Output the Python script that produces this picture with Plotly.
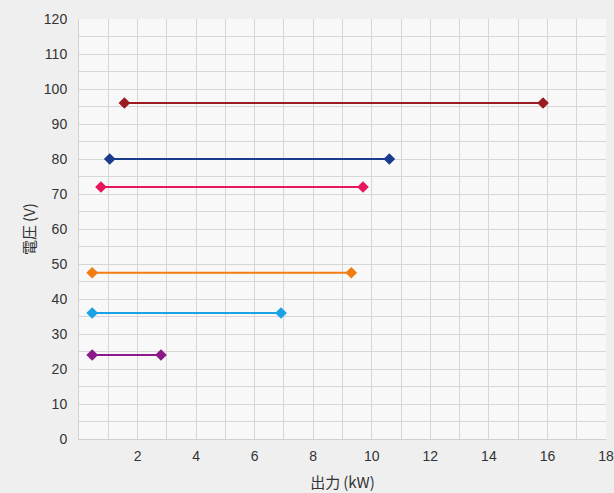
import plotly.graph_objects as go

series_y = [96, 80, 72, 47.5, 36, 24]
x_start = [1.55, 1.05, 0.75, 0.45, 0.45, 0.45]
x_end = [15.85, 10.6, 9.7, 9.3, 6.9, 2.8]
colors = ["#9b1c20", "#1b3c8c", "#e8175d", "#f07c12", "#1ba1e6", "#8a1a8a"]

x_ticks = [2, 4, 6, 8, 10, 12, 14, 16, 18]
y_ticks = list(range(0, 121, 10))

fig = go.Figure()
for y, xs, xe, c in zip(series_y, x_start, x_end, colors):
    fig.add_trace(go.Scatter(
        x=[xs, xe], y=[y, y], mode="lines+markers",
        line=dict(color=c, width=2),
        marker=dict(symbol="diamond", size=9, color=c),
        showlegend=False, hoverinfo="skip"))

tick_font = "Liberation Sans, Arial, sans-serif"
cjk_font = "Noto Sans CJK JP, sans-serif"
fig.update_layout(
    width=614, height=493,
    margin=dict(l=79, r=8, t=19, b=54),
    paper_bgcolor="#efefef", plot_bgcolor="#f8f8f8",
    font=dict(family=tick_font, size=14, color="#333333"),
    xaxis=dict(range=[0, 18], tickvals=x_ticks, ticktext=[str(v) for v in x_ticks],
               showgrid=True, gridcolor="#d6d6d6", gridwidth=1,
               minor=dict(dtick=1, showgrid=True, gridcolor="#d6d6d6", gridwidth=1),
               showline=True, linecolor="#d0d0d0", zeroline=False, ticks="",
               automargin=False, ticklabelstandoff=4,
               title=dict(text="出力\u2009(kW)", font=dict(family=cjk_font, size=15, color="#333333"), standoff=14)),
    yaxis=dict(range=[0, 120], tickvals=y_ticks,
               showgrid=True, gridcolor="#d6d6d6", gridwidth=1,
               minor=dict(dtick=5, showgrid=True, gridcolor="#d6d6d6", gridwidth=1),
               showline=True, linecolor="#d0d0d0", zeroline=False, ticks="",
               automargin=False, ticklabelstandoff=8,
               title=dict(text="電圧\u2009(V)", font=dict(family=cjk_font, size=15, color="#333333"), standoff=4)),
)
fig.write_html("out.html", config={"displayModeBar": False},
               post_script="document.body.style.margin='0';document.body.style.background='#efefef';")
